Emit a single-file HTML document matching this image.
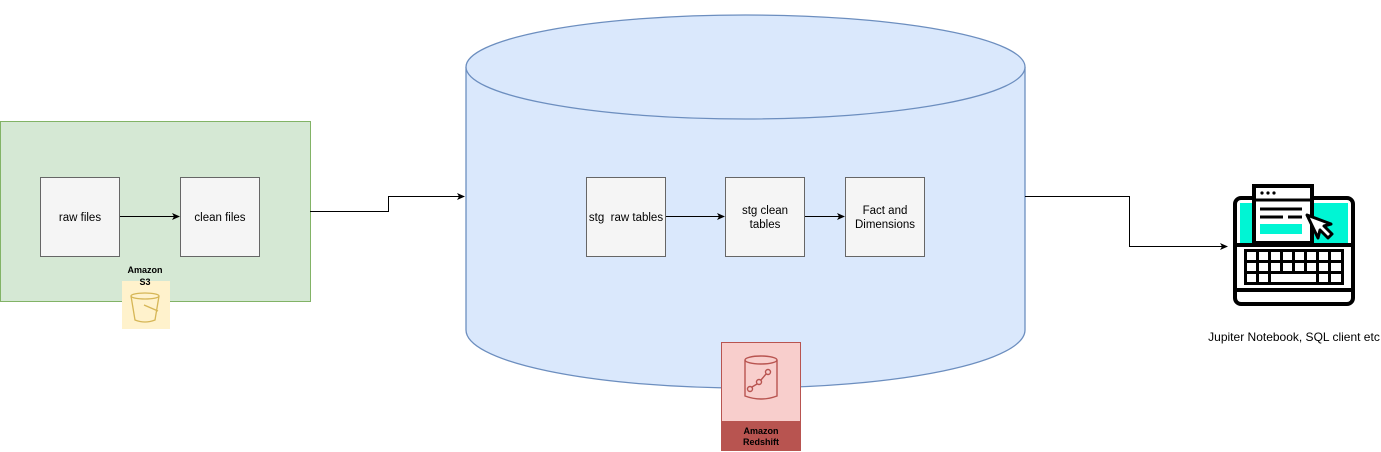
<!DOCTYPE html>
<html><head><meta charset="utf-8"><style>html,body{margin:0;padding:0;background:#fff}svg{display:block}text{font-family:"Liberation Sans",Arial,sans-serif}</style></head><body>
<svg width="1381" height="452" viewBox="0 0 1381 452" xmlns="http://www.w3.org/2000/svg">
<defs><marker id="a" markerWidth="8" markerHeight="8" refX="7" refY="4" orient="auto" markerUnits="userSpaceOnUse"><path d="M0,0.5 L8,4 L0,7.5 L2,4 Z" fill="#000"/></marker></defs>
<rect x="0.5" y="121.5" width="310" height="180" fill="#d5e8d4" stroke="#82b366"/>
<rect x="40.5" y="177.5" width="79" height="79" fill="#f5f5f5" stroke="#666"/>
<text x="80" y="221" font-size="11.5" text-anchor="middle">raw files</text>
<rect x="180.5" y="177.5" width="79" height="79" fill="#f5f5f5" stroke="#666"/>
<text x="220" y="221" font-size="11.5" text-anchor="middle">clean files</text>
<line x1="120" y1="216.5" x2="179" y2="216.5" stroke="#000" marker-end="url(#a)"/>
<rect x="122" y="281" width="48" height="48" fill="#fff2cc"/>
<g fill="none" stroke="#d6b656" stroke-width="1.3"><ellipse cx="145" cy="296" rx="14" ry="3"/><path d="M131,296 L135,320 Q145,324 155,320 L159,296"/><path d="M144,305 L158,311"/></g>
<text x="145" y="273" font-size="9" font-weight="bold" text-anchor="middle">Amazon</text>
<text x="145" y="285" font-size="9" font-weight="bold" text-anchor="middle">S3</text>
<polyline points="310,211.5 388.5,211.5 388.5,196.5 464,196.5" fill="none" stroke="#000" marker-end="url(#a)"/>
<path d="M466,67 L466,330 A279.5,58 0 0 0 1025,330 L1025,67" fill="#dae8fc" stroke="#6c8ebf" stroke-width="1.3"/>
<ellipse cx="745.5" cy="67" rx="279.5" ry="52" fill="#dae8fc" stroke="#6c8ebf" stroke-width="1.3"/>
<rect x="586.5" y="177.5" width="79" height="79" fill="#f5f5f5" stroke="#666"/>
<text x="626" y="221" font-size="11.5" text-anchor="middle" xml:space="preserve">stg  raw tables</text>
<rect x="725.5" y="177.5" width="79" height="79" fill="#f5f5f5" stroke="#666"/>
<text x="765" y="214" font-size="11.5" text-anchor="middle">stg clean</text>
<text x="765" y="228" font-size="11.5" text-anchor="middle">tables</text>
<rect x="845.5" y="177.5" width="79" height="79" fill="#f5f5f5" stroke="#666"/>
<text x="885" y="214" font-size="11.5" text-anchor="middle">Fact and</text>
<text x="885" y="228" font-size="11.5" text-anchor="middle">Dimensions</text>
<line x1="666" y1="216.5" x2="724" y2="216.5" stroke="#000" marker-end="url(#a)"/>
<line x1="805" y1="216.5" x2="844" y2="216.5" stroke="#000" marker-end="url(#a)"/>
<rect x="721.5" y="342.5" width="79" height="79" fill="#f8cecc" stroke="#b85450"/>
<rect x="721" y="421" width="80" height="30" fill="#b85450"/>
<text x="761" y="434" font-size="9" font-weight="bold" text-anchor="middle">Amazon</text>
<text x="761" y="445" font-size="9" font-weight="bold" text-anchor="middle">Redshift</text>
<g fill="none" stroke="#b85450" stroke-width="1.4"><ellipse cx="761" cy="360" rx="16" ry="4"/><path d="M745,360 L745,396 Q761,402 777,396 L777,360"/><circle cx="750" cy="389" r="2.5"/><circle cx="759" cy="382" r="2.5"/><circle cx="768" cy="372" r="2.5"/><path d="M752,387 L757,384 M761,380 L766,374"/></g>
<polyline points="1025,196.5 1129.5,196.5 1129.5,246.5 1227,246.5" fill="none" stroke="#000" marker-end="url(#a)"/>
<g>
<rect x="1235" y="198" width="118" height="106" rx="6" fill="#fff" stroke="#000" stroke-width="4"/>
<rect x="1240" y="203" width="108" height="40" fill="#00f5d4"/>
<line x1="1235" y1="245" x2="1353" y2="245" stroke="#000" stroke-width="4"/>
<line x1="1235" y1="290" x2="1353" y2="290" stroke="#000" stroke-width="4"/>
<rect x="1244" y="249" width="100" height="36" fill="#000"/>
<g fill="#fff">
<rect x="1247" y="252" width="9" height="8"/><rect x="1259" y="252" width="9" height="8"/><rect x="1271" y="252" width="9" height="8"/><rect x="1283" y="252" width="9" height="8"/><rect x="1295" y="252" width="9" height="8"/><rect x="1307" y="252" width="9" height="8"/><rect x="1319" y="252" width="9" height="8"/><rect x="1331" y="252" width="10" height="8"/>
<rect x="1247" y="263" width="9" height="8"/><rect x="1259" y="263" width="9" height="8"/><rect x="1271" y="263" width="9" height="8"/><rect x="1283" y="263" width="9" height="8"/><rect x="1295" y="263" width="9" height="8"/><rect x="1307" y="263" width="9" height="8"/><rect x="1319" y="263" width="9" height="8"/><rect x="1331" y="263" width="10" height="8"/>
<rect x="1247" y="274" width="9" height="8"/><rect x="1259" y="274" width="9" height="8"/><rect x="1271" y="274" width="45" height="8"/><rect x="1319" y="274" width="9" height="8"/><rect x="1331" y="274" width="10" height="8"/>
</g>
<rect x="1254" y="186" width="58" height="57" fill="#fff" stroke="#000" stroke-width="4"/>
<line x1="1254" y1="200" x2="1312" y2="200" stroke="#000" stroke-width="3"/>
<circle cx="1262" cy="193" r="1.6" fill="#000"/><circle cx="1268" cy="193" r="1.6" fill="#000"/><circle cx="1274" cy="193" r="1.6" fill="#000"/>
<line x1="1260" y1="209" x2="1302" y2="209" stroke="#000" stroke-width="3"/>
<line x1="1260" y1="217" x2="1283" y2="217" stroke="#000" stroke-width="3"/><line x1="1288" y1="217" x2="1302" y2="217" stroke="#000" stroke-width="3"/>
<rect x="1260" y="224" width="42" height="10" fill="#00f5d4"/>
<path d="M1307,215 L1318,238 L1320,230 L1328,238 L1332,234 L1324,226 L1331,224 Z" fill="#fff" stroke="#000" stroke-width="3" stroke-linejoin="round"/>
</g>
<text x="1294" y="341" font-size="12" text-anchor="middle">Jupiter Notebook, SQL client etc</text>
</svg>
</body></html>
